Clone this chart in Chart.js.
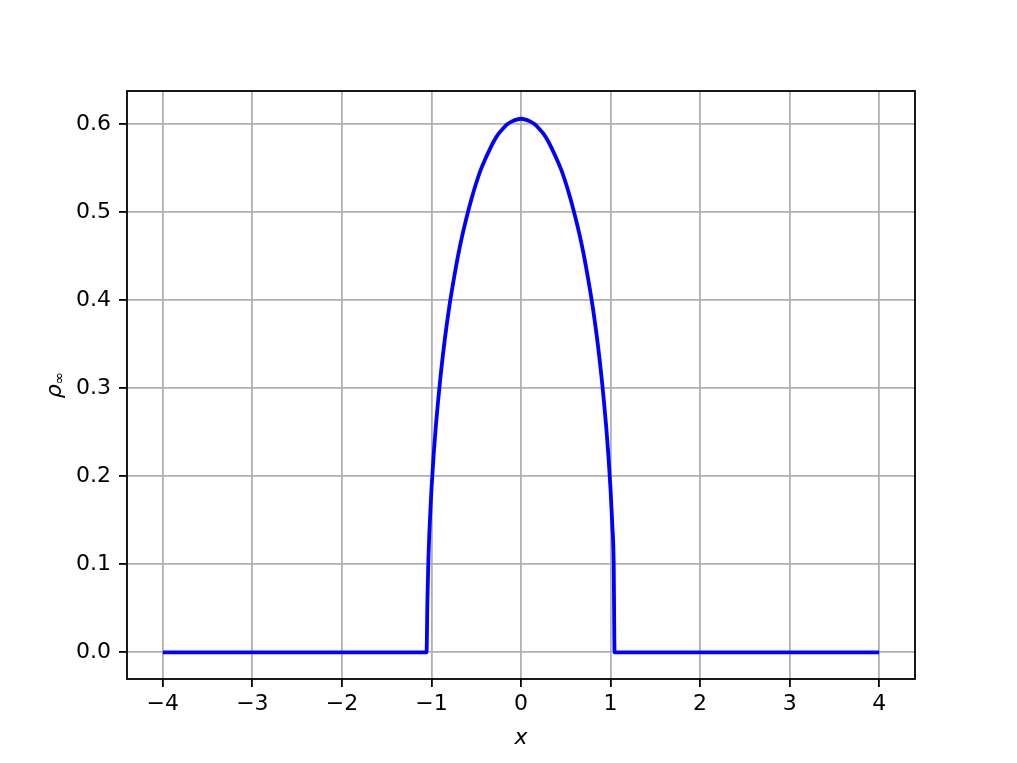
<!DOCTYPE html>
<html>
<head>
<meta charset="utf-8">
<script src="https://cdn.jsdelivr.net/npm/chart.js@4"></script>
<style>
  html, body { margin: 0; padding: 0; background: #fff; }
  #wrap { width: 1017px; height: 763px; }
</style>
</head>
<body>
<div id="wrap"><canvas id="plot" width="1017" height="763"></canvas></div>
<script>
// values
const xValues = [
  -4, -1.055, -1.045, -1.035, -1.02, -1.0, -0.975, -0.95, -0.9, -0.85, -0.8, -0.75,
  -0.7, -0.65, -0.6, -0.55, -0.5, -0.45, -0.4, -0.35, -0.3, -0.25, -0.2, -0.15,
  -0.1, -0.05, 0, 0.05, 0.1, 0.15, 0.2, 0.25, 0.3, 0.35, 0.4, 0.45, 0.5, 0.55,
  0.6, 0.65, 0.7, 0.75, 0.8, 0.85, 0.9, 0.95, 0.975, 1.0, 1.02, 1.035, 1.045, 4
];
const rhoValues = [
  0, 0, 0.059, 0.102, 0.144, 0.185, 0.225, 0.258, 0.312, 0.356, 0.393, 0.424,
  0.452, 0.476, 0.497, 0.516, 0.533, 0.548, 0.560, 0.571, 0.581, 0.589, 0.595, 0.600,
  0.603, 0.605, 0.606, 0.605, 0.603, 0.600, 0.595, 0.589, 0.581, 0.571, 0.560, 0.548, 0.533, 0.516,
  0.497, 0.476, 0.452, 0.424, 0.393, 0.356, 0.312, 0.258, 0.225, 0.185, 0.144, 0.102, 0, 0
];
const xTicks = [-4, -3, -2, -1, 0, 1, 2, 3, 4];
const yTicks = [0.0, 0.1, 0.2, 0.3, 0.4, 0.5, 0.6];

const FONT = "'DejaVu Sans', sans-serif";

function minusLabel(v) {
  return v < 0 ? "\u2212" + Math.abs(v) : String(v);
}

// frame round the plot area plus the y label (rho with a small infinity subscript)
const framePlugin = {
  id: "frame",
  afterDraw(chart) {
    const { ctx, chartArea: a } = chart;
    ctx.save();
    ctx.strokeStyle = "#000";
    ctx.lineWidth = 1.8;
    ctx.strokeRect(a.left, a.top, a.right - a.left, a.bottom - a.top);

    ctx.translate(61, (a.top + a.bottom) / 2);
    ctx.rotate(-Math.PI / 2);
    ctx.fillStyle = "#000";
    ctx.textBaseline = "alphabetic";
    ctx.font = "italic 22px " + FONT;
    const w = ctx.measureText("\u03c1").width;
    ctx.font = "15px " + FONT;
    const w2 = ctx.measureText("\u221e").width;
    const start = -(w + w2) / 2;
    ctx.font = "italic 22px " + FONT;
    ctx.fillText("\u03c1", start, 0);
    ctx.font = "15px " + FONT;
    ctx.fillText("\u221e", start + w, 3);
    ctx.restore();
  },
};

new Chart(document.getElementById("plot"), {
  type: "line",
  data: {
    datasets: [
      {
        data: xValues.map((x, i) => ({ x, y: rhoValues[i] })),
        borderColor: "#0000ff",
        borderWidth: 3.8,
        pointRadius: 0,
        cubicInterpolationMode: "monotone",
        fill: false,
      },
    ],
  },
  options: {
    responsive: false,
    animation: false,
    devicePixelRatio: 1,
    layout: { padding: { top: 91, right: 102, left: 0, bottom: 0 } },
    plugins: { legend: { display: false }, tooltip: { enabled: false } },
    scales: {
      x: {
        type: "linear",
        min: -4.4,
        max: 4.4,
        afterFit: (s) => { s.height = 84; },
        afterBuildTicks: (s) => { s.ticks = xTicks.map((v) => ({ value: v })); },
        ticks: {
          callback: (v) => minusLabel(v),
          color: "#000",
          font: { family: FONT, size: 22 },
          padding: 4,
          maxRotation: 0,
        },
        grid: { color: "#b0b0b0", lineWidth: 1.8, tickColor: "#000", tickLength: 8 },
        border: { display: false },
        title: {
          display: true,
          text: "x",
          color: "#000",
          font: { family: FONT, size: 22, style: "italic" },
          padding: { top: 0, bottom: 12 },
        },
      },
      y: {
        type: "linear",
        min: -0.0303,
        max: 0.6375,
        afterFit: (s) => { s.width = 127; },
        afterBuildTicks: (s) => { s.ticks = yTicks.map((v) => ({ value: v })); },
        ticks: {
          callback: (v) => v.toFixed(1),
          color: "#000",
          font: { family: FONT, size: 22 },
          padding: 8,
        },
        grid: { color: "#b0b0b0", lineWidth: 1.8, tickColor: "#000", tickLength: 8 },
        border: { display: false },
      },
    },
  },
  plugins: [framePlugin],
});
</script>
</body>
</html>
